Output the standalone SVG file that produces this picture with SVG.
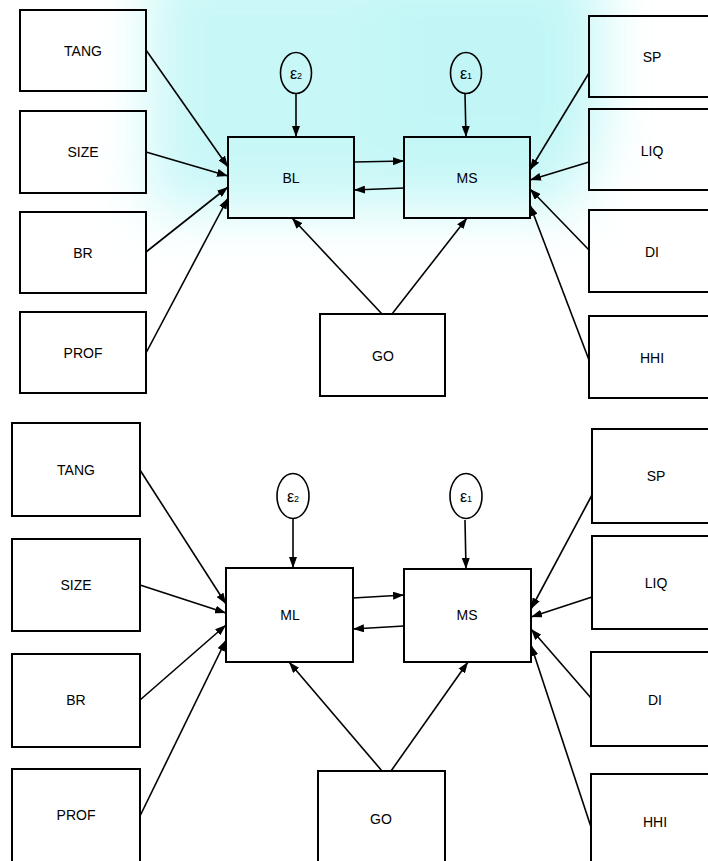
<svg xmlns="http://www.w3.org/2000/svg" width="708" height="861" viewBox="0 0 708 861">
<defs>
<marker id="ah" viewBox="0 0 11 8" refX="11" refY="4" markerWidth="11" markerHeight="8" markerUnits="userSpaceOnUse" orient="auto">
<path d="M0,0 L11,4 L0,8 z" fill="#000"/>
</marker>
<filter id="blur" x="-30%" y="-30%" width="160%" height="160%">
<feGaussianBlur stdDeviation="28"/>
</filter>
<style>
.box{fill:none;stroke:#000;stroke-width:2}
.err{fill:none;stroke:#000;stroke-width:1.6}
.lbl{font-family:"Liberation Sans",Arial,sans-serif;font-size:14px;fill:#000;text-anchor:middle}
.eps{font-family:"Liberation Sans",Arial,sans-serif;font-size:16px;fill:#000;text-anchor:middle}
.sub{font-size:9px}
.c line{stroke:#000;stroke-width:1.6;marker-end:url(#ah)}
</style>
</defs>
<rect width="708" height="861" fill="#fff"/>
<g filter="url(#blur)" opacity="0.85">
<rect x="150" y="-40" width="430" height="250" fill="#bff6f6"/>
<rect x="380" y="-40" width="220" height="200" fill="#b8f5f5"/>
</g>

<g id="connectors" class="c">
<!-- top -->
<line x1="296" y1="94" x2="296" y2="137"/>
<line x1="465" y1="94" x2="466" y2="137"/>
<line x1="146" y1="50" x2="228" y2="167"/>
<line x1="146" y1="152" x2="228" y2="176"/>
<line x1="146" y1="252" x2="228" y2="187"/>
<line x1="146" y1="353" x2="228" y2="198"/>
<line x1="354" y1="162" x2="404" y2="161"/>
<line x1="404" y1="188" x2="354" y2="190"/>
<line x1="589" y1="73" x2="530" y2="170"/>
<line x1="589" y1="162" x2="530" y2="180"/>
<line x1="589" y1="250" x2="530" y2="189"/>
<line x1="589" y1="360" x2="530" y2="205"/>
<line x1="382" y1="314" x2="292" y2="218"/>
<line x1="392" y1="314" x2="467" y2="218"/>
<!-- bottom -->
<line x1="293" y1="519" x2="293" y2="568"/>
<line x1="465" y1="520" x2="466" y2="569"/>
<line x1="140" y1="470" x2="226" y2="604"/>
<line x1="140" y1="585" x2="226" y2="613"/>
<line x1="140" y1="700" x2="226" y2="625"/>
<line x1="140" y1="816" x2="226" y2="640"/>
<line x1="353" y1="598" x2="404" y2="595"/>
<line x1="404" y1="626" x2="353" y2="629"/>
<line x1="592" y1="495" x2="531" y2="609"/>
<line x1="592" y1="597" x2="531" y2="617"/>
<line x1="591" y1="698" x2="531" y2="629"/>
<line x1="591" y1="827" x2="531" y2="645"/>
<line x1="382" y1="771" x2="289" y2="662"/>
<line x1="391" y1="771" x2="468" y2="662"/>
</g>

<!-- top section nodes -->
<g id="tang1"><rect class="box" x="20" y="10" width="126" height="81"/><text class="lbl" x="83" y="56">TANG</text></g>
<g id="size1"><rect class="box" x="20" y="111" width="126" height="82"/><text class="lbl" x="83" y="157">SIZE</text></g>
<g id="br1"><rect class="box" x="20" y="212" width="126" height="81"/><text class="lbl" x="83" y="258">BR</text></g>
<g id="prof1"><rect class="box" x="20" y="312" width="126" height="81"/><text class="lbl" x="83" y="358">PROF</text></g>
<g id="bl1"><rect class="box" x="228" y="137" width="126" height="81"/><text class="lbl" x="291" y="183">BL</text></g>
<g id="ms1"><rect class="box" x="404" y="137" width="126" height="81"/><text class="lbl" x="467" y="183">MS</text></g>
<g id="go1"><rect class="box" x="320" y="314" width="125" height="82"/><text class="lbl" x="383" y="361">GO</text></g>
<g id="sp1"><rect class="box" x="589" y="16" width="126" height="81"/><text class="lbl" x="652" y="62">SP</text></g>
<g id="liq1"><rect class="box" x="589" y="109" width="126" height="81"/><text class="lbl" x="652" y="156">LIQ</text></g>
<g id="di1"><rect class="box" x="589" y="210" width="126" height="82"/><text class="lbl" x="652" y="257">DI</text></g>
<g id="hhi1"><rect class="box" x="589" y="316" width="126" height="82"/><text class="lbl" x="652" y="363">HHI</text></g>
<g id="e2a"><ellipse class="err" cx="296" cy="73" rx="15.5" ry="20.5"/><text class="eps" x="296" y="79">ε<tspan class="sub">2</tspan></text></g>
<g id="e1a"><ellipse class="err" cx="466" cy="73" rx="15.5" ry="20.5"/><text class="eps" x="466" y="79">ε<tspan class="sub">1</tspan></text></g>

<!-- bottom section nodes -->
<g id="tang2"><rect class="box" x="12" y="423" width="128" height="93"/><text class="lbl" x="76" y="475">TANG</text></g>
<g id="size2"><rect class="box" x="12" y="539" width="128" height="92"/><text class="lbl" x="76" y="590">SIZE</text></g>
<g id="br2"><rect class="box" x="12" y="654" width="128" height="93"/><text class="lbl" x="76" y="705">BR</text></g>
<g id="prof2"><rect class="box" x="12" y="769" width="128" height="93"/><text class="lbl" x="76" y="820">PROF</text></g>
<g id="ml2"><rect class="box" x="226" y="568" width="127" height="94"/><text class="lbl" x="290" y="620">ML</text></g>
<g id="ms2"><rect class="box" x="404" y="569" width="127" height="93"/><text class="lbl" x="467" y="620">MS</text></g>
<g id="go2"><rect class="box" x="318" y="771" width="127" height="93"/><text class="lbl" x="381" y="824">GO</text></g>
<g id="sp2"><rect class="box" x="592" y="429" width="126" height="94"/><text class="lbl" x="656" y="481">SP</text></g>
<g id="liq2"><rect class="box" x="592" y="536" width="126" height="93"/><text class="lbl" x="656" y="588">LIQ</text></g>
<g id="di2"><rect class="box" x="591" y="652" width="126" height="94"/><text class="lbl" x="655" y="705">DI</text></g>
<g id="hhi2"><rect class="box" x="591" y="774" width="126" height="93"/><text class="lbl" x="655" y="827">HHI</text></g>
<g id="e2b"><ellipse class="err" cx="293" cy="496" rx="16" ry="22.5"/><text class="eps" x="293" y="502">ε<tspan class="sub">2</tspan></text></g>
<g id="e1b"><ellipse class="err" cx="466" cy="496" rx="16" ry="22.5"/><text class="eps" x="466" y="502">ε<tspan class="sub">1</tspan></text></g>
</svg>
